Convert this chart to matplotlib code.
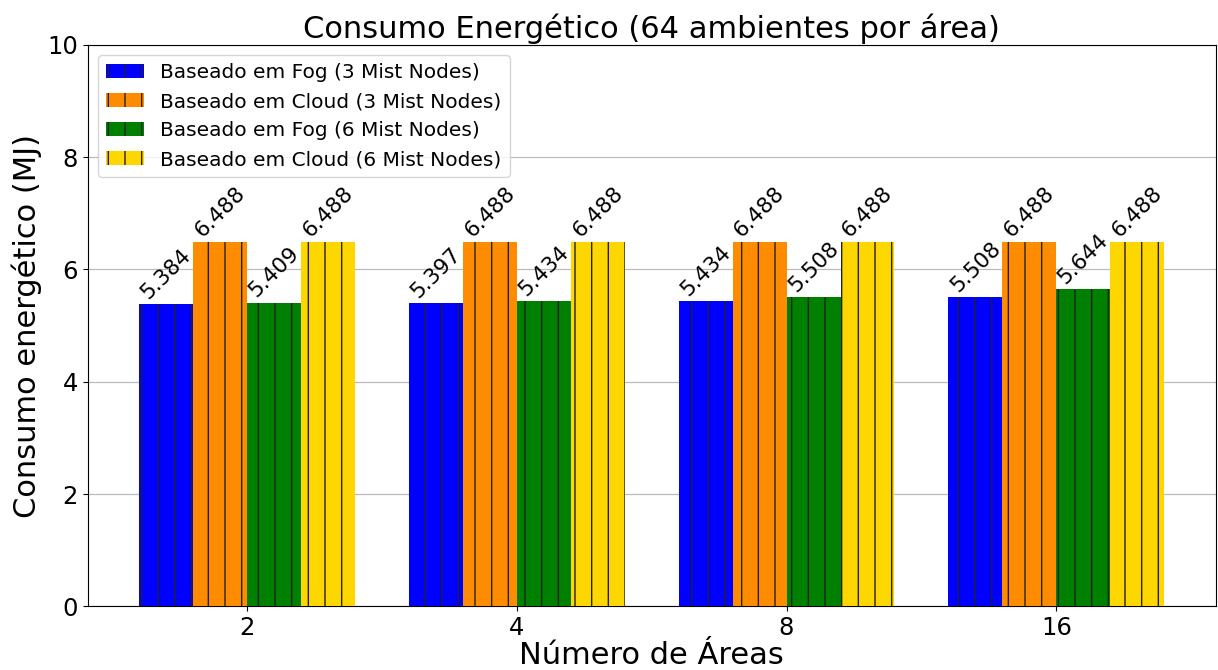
import numpy as np
import matplotlib
matplotlib.use("Agg")
import matplotlib.pyplot as plt

areas = ["2", "4", "8", "16"]
series_names = [
    "Baseado em Fog (3 Mist Nodes)",
    "Baseado em Cloud (3 Mist Nodes)",
    "Baseado em Fog (6 Mist Nodes)",
    "Baseado em Cloud (6 Mist Nodes)",
]
fog_3 = [5.384, 5.397, 5.434, 5.508]
cloud_3 = [6.488, 6.488, 6.488, 6.488]
fog_6 = [5.409, 5.434, 5.508, 5.644]
cloud_6 = [6.488, 6.488, 6.488, 6.488]
colors = ["blue", "darkorange", "green", "gold"]

series = [fog_3, cloud_3, fog_6, cloud_6]

fig = plt.figure(figsize=(12.18, 6.7), dpi=100)
ax = fig.add_axes([0.072, 0.095, 0.926, 0.838])

x = np.arange(len(areas))
width = 0.2
plt.rcParams['hatch.linewidth'] = 1.0
for i, (vals, name, c) in enumerate(zip(series, series_names, colors)):
    offs = (i - 1.5) * width
    bars = ax.bar(x + offs, vals, width, label=name, color=c,
                  hatch="|", edgecolor="#222222", linewidth=0, zorder=3)
    ax.bar_label(bars, labels=[f"{v:.3f}" for v in vals], rotation=45,
                 fontsize=15.5, padding=1)

ax.set_xticks(x)
ax.set_xticklabels(areas)
ax.set_ylim(0, 10)
ax.set_yticks([0, 2, 4, 6, 8, 10])
ax.tick_params(labelsize=17.5)
ax.yaxis.grid(True, color="#bbbbbb", linewidth=0.9, zorder=0)
ax.set_axisbelow(True)
ax.set_title("Consumo Energético (64 ambientes por área)", fontsize=22, pad=5)
ax.set_xlabel("Número de Áreas", fontsize=22, labelpad=1)
ax.set_ylabel("Consumo energético (MJ)", fontsize=22)
ax.legend(loc="upper left", fontsize=14.5, handlelength=1.9)

fig.savefig("out.png", dpi=100)
